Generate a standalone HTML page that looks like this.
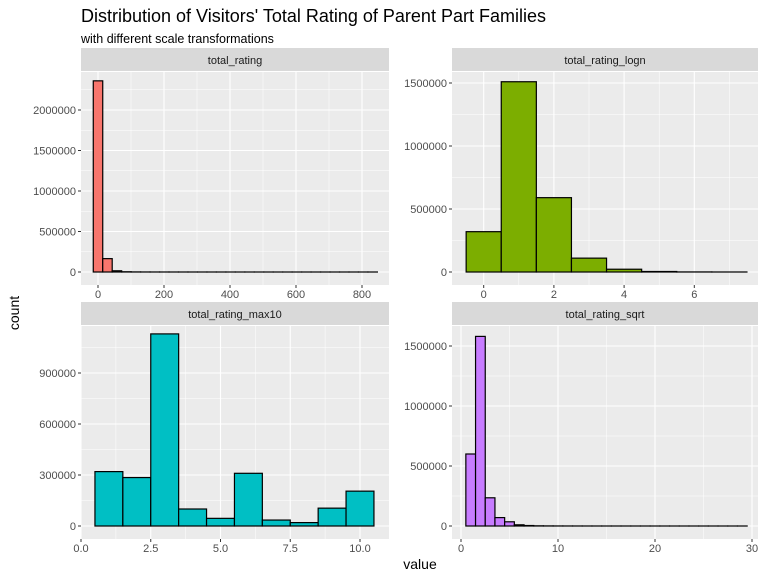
<!DOCTYPE html>
<html><head><meta charset="utf-8"><style>
body{margin:0;background:#fff;font-family:"Liberation Sans",sans-serif}
</style></head><body>
<svg id="c" width="768" height="576" xmlns="http://www.w3.org/2000/svg" font-family="Liberation Sans, sans-serif">
<text x="81" y="22" font-size="18" fill="#000">Distribution of Visitors' Total Rating of Parent Part Families</text>
<text x="81" y="43" font-size="12.5" fill="#000">with different scale transformations</text>
<text x="0" y="0" font-size="14" transform="translate(19,313) rotate(-90)" text-anchor="middle">count</text>
<text x="420" y="569" font-size="14" text-anchor="middle">value</text>
</svg>
<script>
// total_rating panel
const ratingCenters=[0,28.7,57.4,86.1,114.8,143.5,172.2,200.9,229.6,258.3,287,315.7,344.4,373.1,401.8,430.5,459.2,487.9,516.6,545.3,574,602.7,631.4,660.1,688.8,717.5,746.2,774.9,803.6,832.3];
const ratingCounts=[2360000,165000,15000,3000,1000,500,300,200,100,80,60,40,30,20,15,10,8,6,5,4,3,3,2,2,1,1,1,1,1,1];
const ratingXTicks=[0,200,400,600,800];
const ratingYTicks=[0,500000,1000000,1500000,2000000];
// total_rating_logn panel
const lognCenters=[0,1,2,3,4,5,6,7];
const lognCounts=[320000,1510000,590000,110000,22000,4000,600,100];
const lognXTicks=[0,2,4,6];
const lognYTicks=[0,500000,1000000,1500000];
// total_rating_max10 panel
const max10Centers=[1,2,3,4,5,6,7,8,9,10];
const max10Counts=[320000,285000,1130000,100000,45000,310000,35000,20000,105000,205000];
const max10XTicks=[0,2.5,5,7.5,10];
const max10XLabels=["0.0","2.5","5.0","7.5","10.0"];
const max10YTicks=[0,300000,600000,900000];
// total_rating_sqrt panel
const sqrtCenters=[1,2,3,4,5,6,7,8,9,10,11,12,13,14,15,16,17,18,19,20,21,22,23,24,25,26,27,28,29];
const sqrtCounts=[600000,1580000,235000,70000,35000,10000,4000,1500,800,500,300,200,100,80,60,40,30,20,15,10,8,6,5,4,3,2,2,1,1];
const sqrtXTicks=[0,10,20,30];
const sqrtYTicks=[0,500000,1000000,1500000];

const svg=document.getElementById('c');
const NS='http://www.w3.org/2000/svg';
function mk(tag,attrs,parent){const e=document.createElementNS(NS,tag);for(const k in attrs)e.setAttribute(k,attrs[k]);(parent||svg).appendChild(e);return e;}

function panel(o){
  const g=mk('g',{});
  
  
  const xs=v=>o.x0px+(v-o.x0v)*o.xk;
  const ys=v=>o.y0px-v*o.yk;
  const strip=mk('rect',{x:o.L,y:o.T-24,width:o.R-o.L,height:23,fill:'#d9d9d9'},g);
  
  
  const st=mk('text',{x:(o.L+o.R)/2,y:o.T-8,'font-size':11,'text-anchor':'middle',fill:'#1a1a1a'},g);
  st.textContent=o.name;
  
  
  mk('rect',{x:o.L,y:o.T,width:o.R-o.L,height:o.B-o.T,fill:'#ebebeb'},g);
  const xt=o.xt,yt=o.yt;
  const dx=xt[1]-xt[0],dy=yt[1]-yt[0];
  for(let v=xt[0]-dx/2;v<=xt[xt.length-1]+dx;v+=dx){const p=xs(v);if(p>o.L&&p<o.R)mk('line',{x1:p,x2:p,y1:o.T,y2:o.B,stroke:'#fff','stroke-width':0.5},g);}
  for(let v=yt[0]-dy/2;v<=yt[yt.length-1]+dy;v+=dy){const p=ys(v);if(p>o.T&&p<o.B)mk('line',{x1:o.L,x2:o.R,y1:p,y2:p,stroke:'#fff','stroke-width':0.5},g);}
  xt.forEach((v,i)=>{const p=xs(v);
    mk('line',{x1:p,x2:p,y1:o.T,y2:o.B,stroke:'#fff','stroke-width':1.1},g);
    mk('line',{x1:p,x2:p,y1:o.B,y2:o.B+3,stroke:'#333'},g);
    const t=mk('text',{x:p,y:o.B+13,'font-size':11,'text-anchor':'middle',fill:'#4d4d4d'},g);
    t.textContent=o.xl?o.xl[i]:String(v);
    
    });
  yt.forEach(v=>{const p=ys(v);
    mk('line',{x1:o.L,x2:o.R,y1:p,y2:p,stroke:'#fff','stroke-width':1.1},g);
    mk('line',{x1:o.L-3,x2:o.L,y1:p,y2:p,stroke:'#333'},g);
    const t=mk('text',{x:o.L-5,y:p+4,'font-size':11,'text-anchor':'end',fill:'#4d4d4d'},g);
    t.textContent=String(v);
    
    });
  o.centers.forEach((c,i)=>{
    const x1=xs(c-o.bw/2),x2=xs(c+o.bw/2),y=ys(o.counts[i]);
    const r=mk('rect',{x:x1,y:y,width:x2-x1,height:o.y0px-y,fill:o.fill,stroke:'#000','stroke-width':1.2},g);
    
    
  });
}
panel({name:'total_rating',L:81,R:389,T:72,B:285,x0v:0,x0px:98,xk:66/200,y0px:272,yk:81/1e6,xt:ratingXTicks,yt:ratingYTicks,centers:ratingCenters,counts:ratingCounts,bw:28.7,fill:'#f8766d'});
panel({name:'total_rating_logn',L:452,R:758,T:72,B:285,x0v:0,x0px:483.7,xk:35.1,y0px:272,yk:126/1e6,xt:lognXTicks,yt:lognYTicks,centers:lognCenters,counts:lognCounts,bw:1,fill:'#7cae00'});
panel({name:'total_rating_max10',L:81,R:389,T:326,B:539,x0v:0,x0px:81,xk:27.9,y0px:526,yk:170/1e6,xt:max10XTicks,xl:max10XLabels,yt:max10YTicks,centers:max10Centers,counts:max10Counts,bw:1,fill:'#00bfc4'});
panel({name:'total_rating_sqrt',L:452,R:758,T:326,B:539,x0v:0,x0px:461,xk:9.7,y0px:526,yk:120/1e6,xt:sqrtXTicks,yt:sqrtYTicks,centers:sqrtCenters,counts:sqrtCounts,bw:1,fill:'#c77cff'});
</script>
</body></html>
